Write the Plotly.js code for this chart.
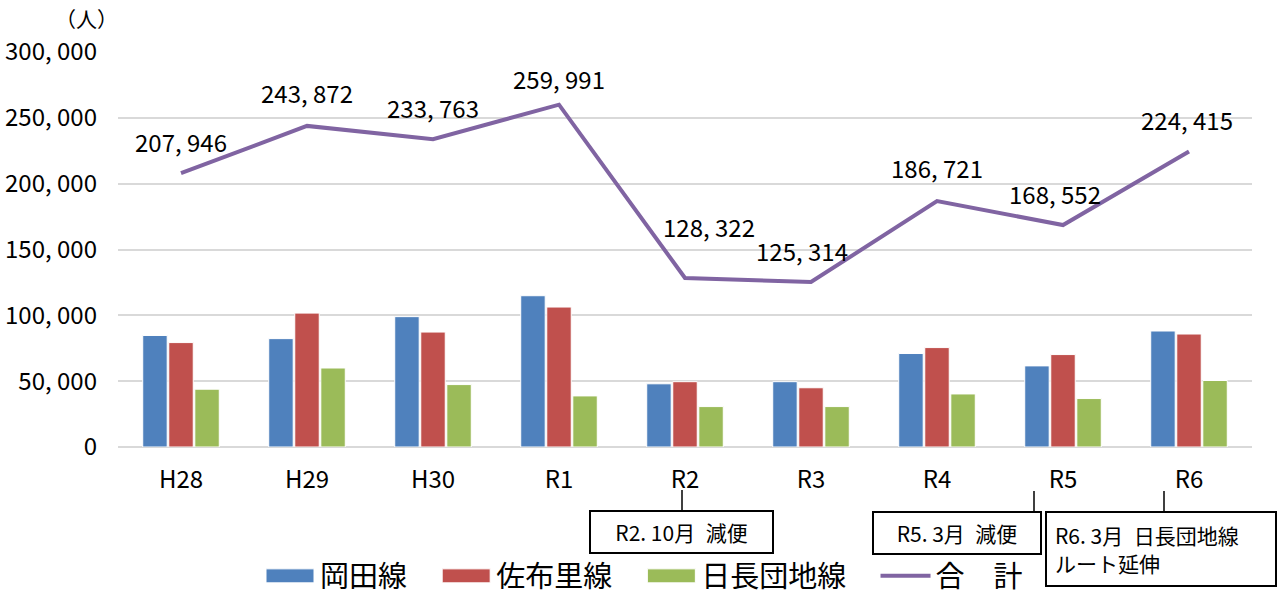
<!DOCTYPE html>
<html>
<head>
<meta charset="utf-8">
<script src="https://cdn.plot.ly/plotly-3.0.1.min.js"></script>
<style>html,body{margin:0;padding:0;background:#fff;}#chart{width:1279px;height:598px;}</style>
</head>
<body>
<div id="chart"></div>
<script>
const categories = ['H28','H29','H30','R1','R2','R3','R4','R5','R6'];
const okada = [84700, 82300, 99000, 114900, 48000, 49600, 71000, 61600, 88100];
const saburi = [79300, 101700, 87300, 106300, 49600, 45000, 75500, 70200, 85800];
const hinaga = [43900, 60000, 47400, 38800, 30700, 30700, 40300, 36800, 50500];
const total = [207946, 243872, 233763, 259991, 128322, 125314, 186721, 168552, 224415];
const seriesNames = ['岡田線','佐布里線','日長団地線','合　計'];
const yTickVals = [0, 50000, 100000, 150000, 200000, 250000, 300000];
const yTickText = ['0','50, 000','100, 000','150, 000','200, 000','250, 000','300, 000'];
const notes = ['R2. 10月\u2002減便','R5. 3月\u2002減便','R6. 3月\u2002日長団地線<br>ルート延伸'];

const FONT = 'Liberation Sans Narrow, Noto Sans CJK JP, sans-serif';
const fmt = v => { const s = v.toString(); return s.slice(0, s.length-3) + ', ' + s.slice(-3); };
const GAP = '\u2002\u2004'; // trailing spacing between legend entries

const barLine = {color:'#ffffff', width:1};
const traces = [
  {type:'bar', name:seriesNames[0] + GAP, x:categories, y:okada, marker:{color:'#4F81BD', line:barLine}},
  {type:'bar', name:seriesNames[1] + GAP, x:categories, y:saburi, marker:{color:'#C0504D', line:barLine}},
  {type:'bar', name:seriesNames[2] + GAP, x:categories, y:hinaga, marker:{color:'#9BBB59', line:barLine}},
  {type:'scatter', mode:'lines', name:seriesNames[3], x:categories, y:total, line:{color:'#8064A2', width:4}}
];

const yShift = [32, 33, 32, 26, 52, 32, 34, 32, 32];
const xShift = [0, 0, 0, 0, 24, -9, 0, -8, -2];
const annotations = total.map((v,i)=>({
  x: categories[i], y: v, xref:'x', yref:'y', text: fmt(v), showarrow:false,
  yshift: yShift[i], xshift: xShift[i], font:{family:FONT, size:24, color:'#000'}
}));

// pixel -> paper helpers (plot area 118..1252 x, 52..447 y)
const px = p => (p-118)/1134;
const py = p => (447-p)/395;

annotations.push({xref:'paper', yref:'paper', x:px(86), y:py(18), xanchor:'center', yanchor:'middle', text:'（人）', showarrow:false,
  font:{family:'Noto Sans CJK JP, sans-serif', size:21, color:'#000'}});

const boxFont = {family:FONT, size:21, color:'#000'};
const boxBase = {xref:'paper', yref:'paper', xanchor:'left', yanchor:'top', showarrow:false,
  bordercolor:'#000', borderwidth:2, borderpad:8, bgcolor:'#fff', font:boxFont};
annotations.push(Object.assign({}, boxBase, {x:px(589), y:py(510), text:notes[0], align:'center', width:165, height:24}));
annotations.push(Object.assign({}, boxBase, {x:px(872), y:py(511), text:notes[1], align:'center', width:150, height:24}));
annotations.push(Object.assign({}, boxBase, {x:px(1045), y:py(511), text:notes[2], align:'left', width:212, height:56}));

const shapes = [
  {type:'line', xref:'paper', yref:'paper', x0:px(682), x1:px(682), y0:py(490), y1:py(510), line:{color:'#000', width:1.5}},
  {type:'line', xref:'paper', yref:'paper', x0:px(1034), x1:px(1034), y0:py(491), y1:py(511), line:{color:'#000', width:1.5}},
  {type:'line', xref:'paper', yref:'paper', x0:px(1164), x1:px(1164), y0:py(491), y1:py(511), line:{color:'#000', width:1.5}}
];

const layout = {
  width:1279, height:598,
  margin:{l:118, r:27, t:52, b:151, autoexpand:false},
  paper_bgcolor:'#fff', plot_bgcolor:'#fff',
  barmode:'group', bargap:0.38, bargroupgap:0.06,
  font:{family:FONT, size:24, color:'#000'},
  showlegend:true,
  legend:{orientation:'h', xref:'container', yref:'container', x:644/1279, xanchor:'center', y:1-576/598, yanchor:'middle',
    font:{family:'Noto Sans CJK JP, sans-serif', size:29, color:'#000'}, itemwidth:50, tracegroupgap:0, bgcolor:'rgba(0,0,0,0)'},
  xaxis:{type:'category', showgrid:false, zeroline:false, showline:false, ticks:'',
    ticklabelstandoff:16, tickfont:{family:FONT, size:24, color:'#000'}},
  yaxis:{range:[0,300000], tickvals:yTickVals, ticktext:yTickText, showgrid:true, gridcolor:'#d9d9d9', gridwidth:2,
    zeroline:true, zerolinecolor:'#d9d9d9', zerolinewidth:2, showline:false, ticks:'',
    ticklabelstandoff:20, tickfont:{family:FONT, size:24, color:'#000'}},
  annotations:annotations,
  shapes:shapes
};

function widenLegendSymbols(){
  const gd = document.getElementById('chart');
  gd.querySelectorAll('.legend .traces').forEach((t, i) => {
    t.querySelectorAll('.legendpoints path').forEach(p => {
      if (i < 3) {
        p.setAttribute('d', 'M-24,7H24V-7H-24Z');
      } else {
        p.setAttribute('d', 'M-24,0H26');
        p.style.strokeWidth = '5px';
        p.style.strokeLinecap = 'round';
      }
    });
  });
}

Plotly.newPlot('chart', traces, layout, {displayModeBar:false, responsive:false}).then(gd => {
  widenLegendSymbols();
  gd.on('plotly_afterplot', widenLegendSymbols);
});
</script>
</body>
</html>
